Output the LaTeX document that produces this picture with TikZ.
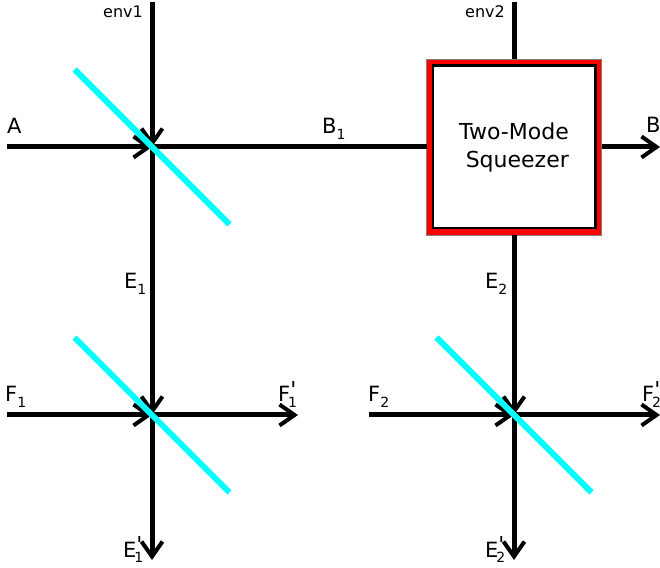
\documentclass[tikz,border=0pt]{standalone}
\usepackage{fontspec}
\setmainfont{DejaVu Sans}
\usetikzlibrary{arrows.meta,positioning}
\definecolor{bscyan}{RGB}{0,255,255}
\newcommand{\sublbl}[2]{#1\raisebox{-0.26em}{\fontsize{14}{14}\selectfont #2}}
\newcommand{\primelbl}[2]{#1\rlap{\raisebox{-0.26em}{\fontsize{14}{14}\selectfont\hspace*{-0.15em}#2}}\raisebox{4.5pt}{\fontsize{22}{22}\selectfont\textquotesingle}}

\begin{document}
\begin{tikzpicture}[x=1pt, y=1pt,
  beam/.style={line width=5pt, black},
  arr/.style={beam, -{Straight Barb[length=15pt, width=21pt, line width=4pt]}},
  splitter/.style={rectangle, fill=bscyan, rotate=-45, minimum width=219pt,
             minimum height=6pt, inner sep=0pt},
  tmsouter/.style={rectangle, draw=gray, fill=red, line width=0.5pt, outer sep=0pt,
             minimum width=175pt, minimum height=176pt},
  tmsinner/.style={rectangle, draw=black, fill=white, line width=2.5pt, inner sep=0pt,
             minimum width=162.5pt, minimum height=162.5pt, align=center,
             font=\fontsize{22}{28}\selectfont},
  lbl/.style={anchor=base west, inner sep=0pt, font=\fontsize{21}{25}\selectfont},
  envlbl/.style={lbl, font=\fontsize{16}{20}\selectfont}]

\useasboundingbox (0,0) rectangle (660,567);

\coordinate (bs1) at (152,420);
\coordinate[below=268pt of bs1] (bs2);
\coordinate[right=362pt of bs2] (bs3);
\node[tmsouter, above=180pt of bs3] (tms) {};
\node[tmsinner] (tmstext) at (tms) {Two-Mode\\\hspace*{0.3em}Squeezer};

% free ends
\coordinate (ain) at (7,420);
\coordinate (env1in) at (152,565);
\coordinate (env2in) at (514,565);
\coordinate (f1in) at (7,152);
\coordinate (f2in) at (369,152);
\coordinate (bout) at (660,420);
\coordinate (f1out) at (298,152);
\coordinate (f2out) at (660,152);
\coordinate (e1out) at (152,7);
\coordinate (e2out) at (514,7);

\draw[arr] (ain) -- (bs1);
\draw[arr] (env1in) -- (bs1);
\draw[beam] (bs1) -- (tms);
\draw[beam] (env2in) -- (tms);
\draw[arr] (tms) -- (bout);
\draw[arr] (bs1) -- (bs2);
\draw[arr] (tms) -- (bs3);
\draw[arr] (f1in) -- (bs2);
\draw[arr] (f2in) -- (bs3);
\draw[arr] (bs2) -- (f1out);
\draw[arr] (bs3) -- (f2out);
\draw[arr] (bs2) -- (e1out);
\draw[arr] (bs3) -- (e2out);

\foreach \bs in {bs1,bs2,bs3}
  \node[splitter] (cut\bs) at (\bs) {};

\node[envlbl] (lenv1) at (103,549) {env1};
\node[envlbl] (lenv2) at (465,549) {env2};
\node[lbl] (la) at (7,433) {A};
\node[lbl] (lb1) at (322,433) {\sublbl{B}{1}};
\node[lbl] (lb) at (646,434) {B};
\node[lbl] (le1) at (124,278) {\sublbl{E}{1}};
\node[lbl] (le2) at (485,278) {\sublbl{E}{2}};
\node[lbl] (lf1) at (5,165) {\sublbl{F}{1}};
\node[lbl] (lf2) at (368,165) {\sublbl{F}{2}};
\node[lbl] (lf1p) at (278,165) {\primelbl{F}{1}};
\node[lbl] (lf2p) at (642,165) {\primelbl{F}{2}};
\node[lbl] (le1p) at (123,10) {\primelbl{E}{1}};
\node[lbl] (le2p) at (485,10) {\primelbl{E}{2}};
\end{tikzpicture}
\end{document}
